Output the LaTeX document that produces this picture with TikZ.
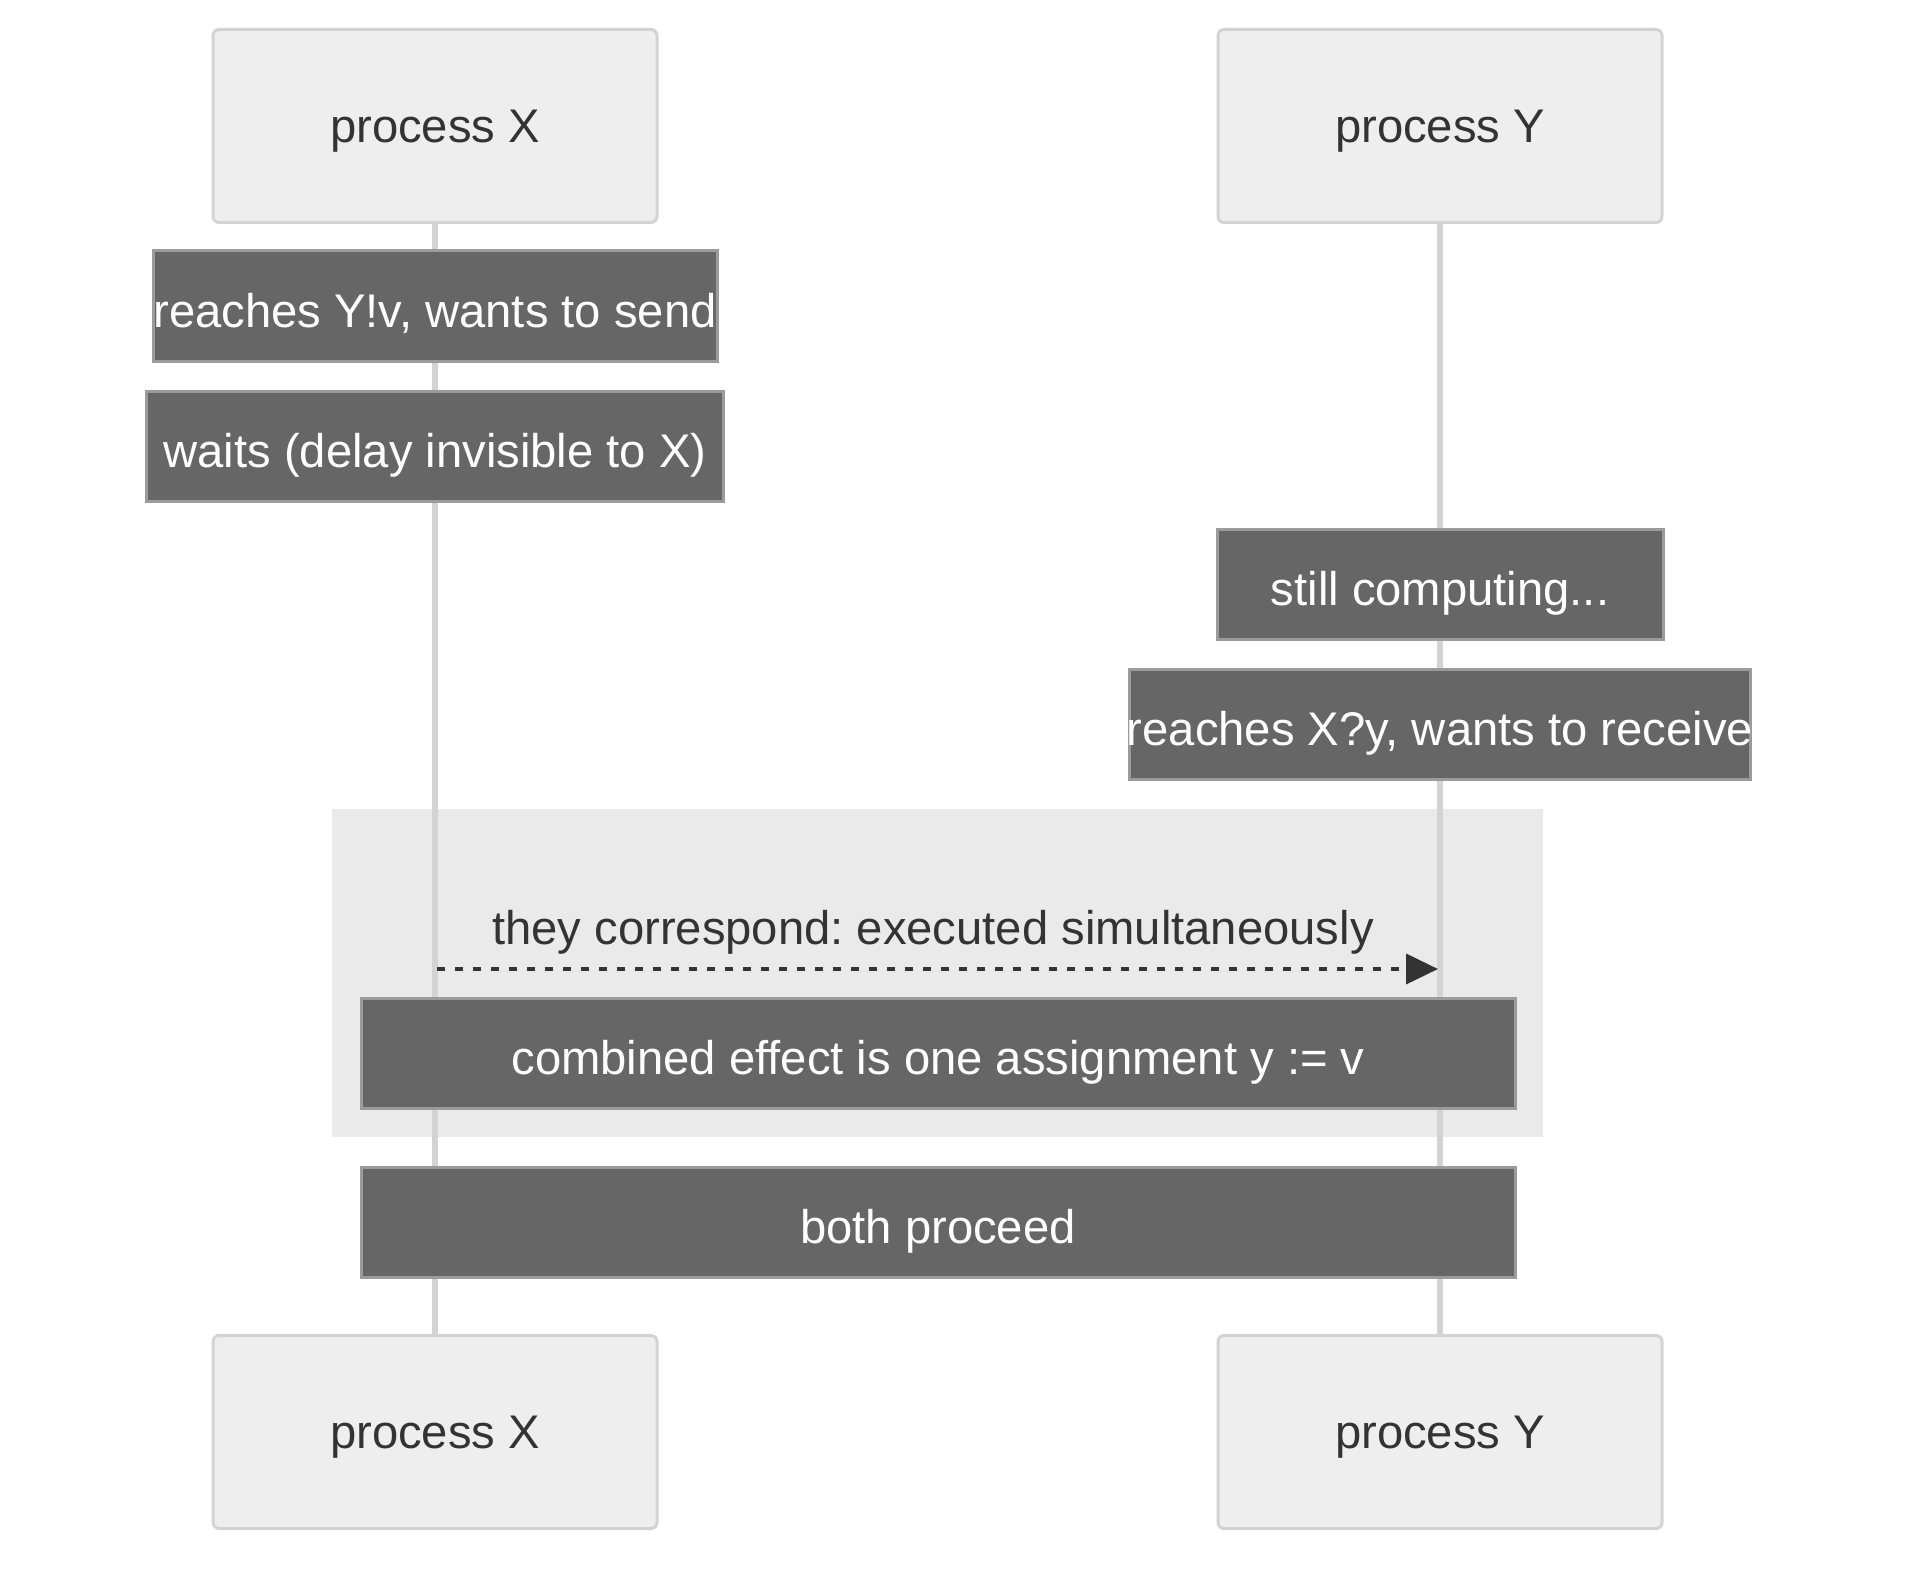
\documentclass[tikz,border=0pt]{standalone}
\usepackage{fontspec}
\setmainfont{Liberation Sans}
\usetikzlibrary{arrows.meta}
\frenchspacing
\definecolor{actorfill}{HTML}{EEEEEE}
\definecolor{actorborder}{HTML}{D3D3D3}
\definecolor{textdark}{HTML}{333333}
\definecolor{notefill}{HTML}{666666}
\definecolor{noteborder}{HTML}{9B9B9B}
\definecolor{lifecol}{HTML}{D3D3D3}
\definecolor{rectfill}{HTML}{EAEAEA}
\tikzset{
  basefont/.style={font=\fontsize{47.2}{56}\selectfont, text height=33pt, text depth=0pt},
  actor/.style={basefont, draw=actorborder, fill=actorfill, rounded corners=6pt, line width=3pt,
    minimum width=444pt, minimum height=193pt, inner sep=0pt, text=textdark},
  notebox/.style={basefont, text height=42pt, draw=noteborder, fill=notefill, line width=3pt, text=white,
    minimum height=110pt, inner sep=0pt},
  lifeline/.style={draw=lifecol, line width=6pt},
  msgline/.style={draw=textdark, line width=4pt, dash pattern=on 8pt off 10pt,
    -{Triangle[length=32pt,width=30pt,fill=textdark]}},
  msglabel/.style={basefont, text=textdark, inner sep=0pt, anchor=base}
}
\begin{document}
\begin{tikzpicture}[x=1pt,y=-1pt]
\useasboundingbox (0,0) rectangle (1923,1581);
% background rect
\fill[rectfill] (332,809) rectangle (1543,1137);
% actors
\node[actor] (topX) at (435,126) {process X};
\node[actor] (topY) at (1440,126) {process Y};
\node[actor] (botX) at (435,1432) {process X};
\node[actor] (botY) at (1440,1432) {process Y};
% lifelines
\draw[lifeline] (topX) -- (botX);
\draw[lifeline] (topY) -- (botY);
% notes
\node[notebox, minimum width=564pt] (n1) at (435,306) {\makebox[0pt]{reaches Y!v, wants to send}};
\node[notebox, minimum width=577pt] (n2) at (435,446) {waits (delay invisible to X)};
\node[notebox, minimum width=446pt] (n3) at (1440,584) {still computing...};
\node[notebox, minimum width=621pt] (n4) at (1440,724) {\makebox[0pt]{reaches X?y, wants to receive}};
% message
\coordinate (m1) at (437,969);
\coordinate (m2) at (1438,969);
\draw[msgline] (m1) -- (m2);
\node[msglabel] (mlabel) at (933,944) {they correspond: executed simultaneously};
\node[notebox, minimum width=1154pt] (n5) at (938,1053) {combined effect is one assignment y := v};
\node[notebox, minimum width=1154pt] (n6) at (938,1222) {both proceed};
\end{tikzpicture}
\end{document}
